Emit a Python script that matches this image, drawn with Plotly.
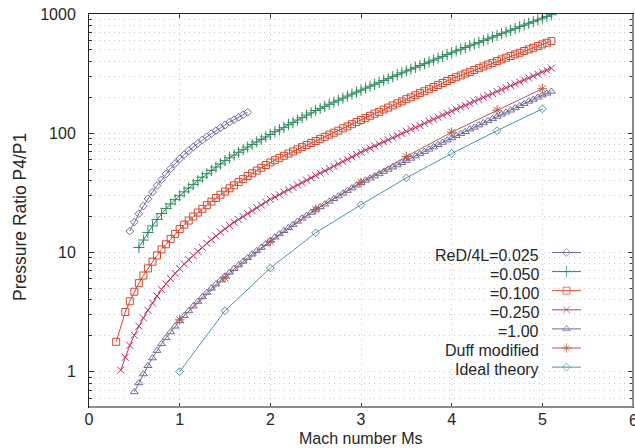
import math
import plotly.graph_objects as go

# ---------------- data ----------------
step = 0.05

mach_025_start = 0.45
p_025 = [15.1, 18.0, 21.1, 24.5, 28.2, 32.1, 36.3, 40.7, 45.4, 50.4, 55.6, 61.0, 66.1, 71.3,
         76.7, 82.2, 87.7, 93.3, 99.1, 105, 111, 117, 124, 130, 136, 143, 150]

mach_050_start = 0.55
p_050 = [11.0, 12.7, 14.7, 16.7, 18.9, 21.2, 23.4, 25.5, 27.7, 29.9,
         32.2, 34.7, 37.2, 39.9, 42.8, 45.7, 48.8, 52.0, 55.3, 58.9,
         62.2, 65.6, 69.2, 72.8, 76.6, 80.5, 84.5, 88.7, 93.1, 97.7,
         103, 107, 112, 118, 123, 129, 135, 142, 148, 155,
         161, 168, 175, 182, 189, 197, 205, 213, 221, 230,
         239, 248, 257, 267, 277, 287, 298, 309, 321, 333,
         344, 357, 370, 383, 396, 411, 426, 441, 457, 473,
         490, 506, 524, 541, 560, 578, 598, 618, 640, 661,
         684, 706, 731, 755, 782, 807, 836, 863, 893, 923,
         955, 986]

mach_100_first = 0.30
mach_100_start = 0.40
p_100 = [1.78,
         3.16, 3.89, 4.68, 5.52, 6.40, 7.35, 8.36, 9.44, 10.6, 11.7, 13.0, 14.3, 15.7,
         17.1, 18.5, 20.0, 21.6, 23.2, 24.9, 26.7, 28.6, 30.5, 32.4,
         34.5, 36.6, 38.9, 41.2, 43.7, 46.1, 48.6, 51.3, 54.1, 56.9,
         59.4, 62.1, 64.7, 67.5, 70.3, 73.3, 76.4, 79.6, 82.8, 86.1,
         89.7, 93.3, 97.3, 101, 105, 110, 114, 119, 124, 129,
         134, 140, 146, 151, 158, 164, 171, 178, 185, 193,
         200, 208, 217, 225, 234, 244, 254, 264, 274, 285,
         295, 305, 316, 327, 339, 351, 363, 376, 389, 403,
         416, 430, 444, 458, 473, 489, 505, 521, 538, 556,
         574, 593]

mach_250_start = 0.35
p_250 = [1.03, 1.32, 1.66, 2.02,
         2.41, 2.82, 3.27, 3.77, 4.31, 4.90, 5.46, 6.04, 6.67, 7.33,
         8.00, 8.69, 9.42, 10.2, 11.0, 11.9, 12.8, 13.7, 14.8, 15.8,
         16.8, 17.9, 18.9, 20.0, 21.2, 22.4, 23.7, 25.0, 26.4, 27.9,
         29.2, 30.5, 32.0, 33.5, 35.1, 36.7, 38.5, 40.3, 42.2, 44.2,
         46.2, 48.3, 50.6, 52.8, 55.3, 57.8, 60.5, 63.2, 66.2, 69.2,
         72.1, 75.0, 78.2, 81.3, 84.7, 88.1, 91.8, 95.5, 99.5, 104,
         108, 112, 116, 121, 126, 131, 136, 142, 147, 153,
         159, 165, 171, 178, 185, 192, 200, 207, 215, 224,
         232, 241, 251, 260, 270, 281, 291, 302, 313, 326,
         338, 351]

mach_1_start = 0.50
p_1 = [0.676,
       0.804, 0.955, 1.12, 1.30, 1.50, 1.71, 1.92, 2.15, 2.40, 2.66,
       2.94, 3.23, 3.54, 3.87, 4.23, 4.60, 5.00, 5.42, 5.86, 6.31,
       6.79, 7.31, 7.85, 8.41, 9.02, 9.66, 10.3, 11.0, 11.8, 12.6,
       13.4, 14.3, 15.2, 16.1, 17.1, 18.2, 19.3, 20.4, 21.6, 22.9,
       24.1, 25.4, 26.8, 28.2, 29.7, 31.3, 33.0, 34.7, 36.6, 38.5,
       40.2, 41.9, 43.7, 45.6, 47.6, 49.7, 51.9, 54.1, 56.5, 58.9,
       61.5, 64.3, 67.1, 70.1, 73.3, 76.6, 80.0, 83.6, 87.3, 91.2,
       95.1, 99.1, 103, 108, 112, 117, 122, 127, 132, 138,
       144, 150, 156, 163, 170, 177, 185, 192, 200, 209,
       216, 224]

duff_mach = [1.0, 1.5, 2.0, 2.5, 3.0, 3.5, 4.0, 4.5, 5.0]
duff_p = [2.72, 6.10, 12.3, 22.9, 38.7, 63.7, 102, 156, 236]

ideal_mach = [1.0, 1.5, 2.0, 2.5, 3.0, 3.5, 4.0, 4.5, 5.0]
ideal_p = [1.00, 3.24, 7.40, 14.6, 25.1, 42.2, 67.5, 105, 160]

labels = ["ReD/4L=0.025", "=0.050", "=0.100", "=0.250", "=1.00", "Duff modified", "Ideal theory"]
x_ticks = [0, 1, 2, 3, 4, 5]
x_last_tick = 6
y_ticks = [1, 10, 100, 1000]
y_tick_text = ["1", "10", "100", "1000"]
y_minor = [0.6, 0.7, 0.8, 0.9] + [m * d for d in (1, 10, 100) for m in range(2, 10)]
x_title = "Mach number Ms"
y_title = "Pressure Ratio P4/P1"


def grid(start, n):
    return [round(start + step * i, 2) for i in range(n)]


series_x = [
    grid(mach_025_start, len(p_025)),
    grid(mach_050_start, len(p_050)),
    [mach_100_first] + grid(mach_100_start, len(p_100) - 1),
    grid(mach_250_start, len(p_250)),
    grid(mach_1_start, len(p_1)),
    duff_mach,
    ideal_mach,
]
series_y = [p_025, p_050, p_100, p_250, p_1, duff_p, ideal_p]

# ---------------- styles ----------------
colors = ["#6c6b9c", "#2f8a5c", "#d6472c", "#b8346a", "#6f6c9d", "#b25b4b", "#4f93a5"]
symbols = ["diamond-open", "cross-thin-open", "square-open", "x-thin-open",
           "triangle-up-open", "asterisk-open", "diamond-open"]
sizes = [6, 8, 7, 7, 7, 8, 6]
FONT = "Liberation Sans, Arial, sans-serif"
TXT = "#262626"

W, H = 635, 448
ML, MR, MT, MB = 89, 2, 14, 41
PX0, PX1, PY0, PY1 = ML, W - MR, MT, H - MB  # plot area in pixels

fig = go.Figure()
for xs, ys, c, s, sz in zip(series_x, series_y, colors, symbols, sizes):
    fig.add_trace(go.Scatter(
        x=xs, y=ys, mode="lines+markers",
        line=dict(color=c, width=1),
        marker=dict(symbol=s, size=sz, color=c, line=dict(color=c, width=1)),
        showlegend=False, hoverinfo="skip"))

# ---------------- manual legend (text right, sample on the right) ----------------
leg_text_right = 541
leg_line = (552, 581)
leg_y0, leg_dy = 252.5, 19.1
for i, (lab, c, s, sz) in enumerate(zip(labels, colors, symbols, sizes)):
    yc = leg_y0 + leg_dy * i
    fig.add_trace(go.Scatter(
        x=[leg_line[0], (leg_line[0] + leg_line[1]) / 2, leg_line[1]], y=[yc, yc, yc],
        xaxis="x2", yaxis="y2", mode="lines+markers",
        line=dict(color=c, width=1),
        marker=dict(symbol=s, size=[0, sz, 0], color=c, line=dict(color=c, width=1)),
        showlegend=False, hoverinfo="skip"))
    fig.add_annotation(x=leg_text_right, y=yc + 2.5, xref="x2", yref="y2", text=lab,
                       showarrow=False, xanchor="right", yanchor="middle",
                       font=dict(family=FONT, size=16, color=TXT))

grid_style = dict(showgrid=True, gridcolor="#c6c6c6", griddash="1px,4px", gridwidth=1)

fig.update_layout(
    width=W, height=H, margin=dict(l=ML, r=MR, t=MT, b=MB),
    paper_bgcolor="white", plot_bgcolor="white", showlegend=False,
    font=dict(family=FONT, size=16, color=TXT),
    xaxis=dict(range=[0, 6], tickvals=x_ticks + [x_last_tick], ticktext=[str(v) for v in x_ticks] + [""],
               ticks="inside", ticklen=4, tickcolor="#333",
               showline=True, linecolor="#222", linewidth=1, mirror="ticks",
               zeroline=False, ticklabelstandoff=-2,
               tickfont=dict(family=FONT, size=16, color=TXT), **grid_style),
    yaxis=dict(type="log", range=[math.log10(0.505), 3.0], tickvals=y_ticks, ticktext=y_tick_text,
               ticks="inside", ticklen=5, tickcolor="#333",
               showline=True, linecolor="#222", linewidth=1, mirror="ticks",
               zeroline=False, ticklabelstandoff=9,
               tickfont=dict(family=FONT, size=16, color=TXT),
               minor=dict(tickvals=y_minor, ticks="inside", ticklen=3, tickcolor="#333",
                          **grid_style),
               **grid_style),
    xaxis2=dict(overlaying="x", anchor="y2", range=[PX0, PX1], visible=False),
    yaxis2=dict(overlaying="y", anchor="x2", range=[PY1, PY0], visible=False),
)

# heavier grey bottom and right frame lines
fig.add_shape(type="line", xref="paper", yref="paper", x0=0, x1=1, y0=0, y1=0,
              line=dict(color="#8c8c8c", width=2), layer="above")
fig.add_shape(type="line", xref="paper", yref="paper", x0=1, x1=1, y0=0, y1=1,
              line=dict(color="#8c8c8c", width=2), layer="above")

# last x tick label (partly cut off by the page edge, as in the reference)
fig.add_annotation(text=str(x_last_tick), x=x_last_tick, xref="x", yref="paper",
                   y=(PY1 - 420) / (PY1 - PY0), showarrow=False,
                   xanchor="center", yanchor="middle",
                   font=dict(family=FONT, size=16, color=TXT))

# axis titles
fig.add_annotation(text=x_title, xref="paper", yref="paper",
                   x=(361 - PX0) / (PX1 - PX0), y=(PY1 - 438) / (PY1 - PY0),
                   showarrow=False, xanchor="center", yanchor="middle",
                   font=dict(family=FONT, size=16, color=TXT))
fig.add_annotation(text=y_title, xref="paper", yref="paper",
                   x=(20 - PX0) / (PX1 - PX0), y=(PY1 - 217) / (PY1 - PY0),
                   showarrow=False, xanchor="center", yanchor="middle", textangle=-90,
                   font=dict(family=FONT, size=17.5, color=TXT))

fig.write_html("out.html")
